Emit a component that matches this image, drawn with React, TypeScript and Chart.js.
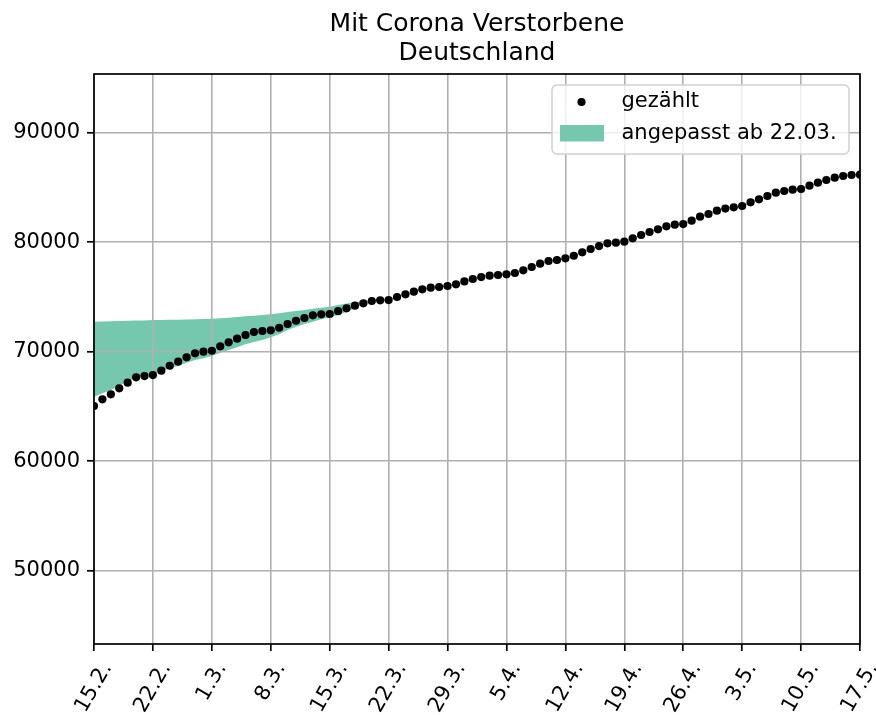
import React, { useEffect, useRef } from 'react';
import { Chart, registerables } from 'chart.js';

Chart.register(...registerables);

const TITLE_LINES = ['Mit Corona Verstorbene', 'Deutschland'];
const X_TICK_LABELS = ['15.2.', '22.2.', '1.3.', '8.3.', '15.3.', '22.3.', '29.3.', '5.4.', '12.4.', '19.4.', '26.4.', '3.5.', '10.5.', '17.5.'];
const X_TICK_STEP = 7; // days between tick labels
const Y_TICKS = [50000, 60000, 70000, 80000, 90000];
const Y_MIN = 43310;
const Y_MAX = 95360;
const LABEL_COUNTED = 'gezählt';
const LABEL_FIT = 'angepasst ab 22.03.';

// daily counted deaths, 15.2. .. 17.5.
const COUNTED = [
  65041, 65650, 66110, 66660, 67170, 67660, 67780, 67870, 68265, 68720,
  69090, 69490, 69850, 70000, 70090, 70490, 70860, 71190, 71525, 71800,
  71890, 71955, 72190, 72530, 72830, 73080, 73320, 73415, 73445, 73700,
  73960, 74200, 74420, 74630, 74695, 74720, 74995, 75240, 75480, 75700,
  75845, 75910, 76000, 76155, 76420, 76640, 76820, 76940, 77005, 77070,
  77190, 77435, 77735, 78040, 78285, 78375, 78530, 78765, 79080, 79380,
  79650, 79900, 79955, 80045, 80355, 80660, 80930, 81180, 81450, 81600,
  81660, 81965, 82330, 82575, 82875, 83070, 83185, 83305, 83645, 83920,
  84220, 84520, 84675, 84795, 84860, 85160, 85435, 85680, 85890, 86045,
  86135, 86165,
];

// fitted band (upper / lower)
const FIT_UPPER = [
  72740, 72760, 72780, 72800, 72820, 72840, 72860, 72890, 72900, 72915,
  72930, 72945, 72960, 72980, 73005, 73060, 73110, 73170, 73230, 73290,
  73350, 73415, 73520, 73620, 73720, 73820, 73920, 74020, 74110, 74260,
  74400, 74520, 74600, 74690, 74760, 74790, 75060, 75310, 75550, 75770,
  75915, 75980, 76070, 76225, 76490, 76710, 76890, 77010, 77075, 77140,
  77260, 77505, 77805, 78110, 78355, 78445, 78600, 78835, 79150, 79450,
  79720, 79970, 80025, 80115, 80425, 80730, 81000, 81250, 81520, 81670,
  81730, 82035, 82400, 82645, 82945, 83140, 83255, 83375, 83715, 83990,
  84290, 84590, 84745, 84865, 84930, 85230, 85505, 85750, 85960, 86115,
  86205, 86235,
];
const FIT_LOWER = [
  65890, 66200, 66500, 66870, 67300, 67660, 67800, 67920, 68200, 68480,
  68720, 69000, 69240, 69400, 69600, 69910, 70155, 70400, 70675, 70885,
  71070, 71315, 71590, 71980, 72285, 72530, 72740, 72960, 73140, 73350,
  73625, 73990, 74310, 74560, 74630, 74650, 74930, 75170, 75410, 75630,
  75775, 75840, 75930, 76085, 76350, 76570, 76750, 76870, 76935, 77000,
  77120, 77365, 77665, 77970, 78215, 78305, 78460, 78695, 79010, 79310,
  79580, 79830, 79885, 79975, 80285, 80590, 80860, 81110, 81380, 81530,
  81590, 81895, 82260, 82505, 82805, 83000, 83115, 83235, 83575, 83850,
  84150, 84450, 84605, 84725, 84790, 85090, 85365, 85610, 85820, 85975,
  86065, 86095,
];

const FONT = '"DejaVu Sans", sans-serif';
const BAND_COLOR = 'rgba(102,194,165,0.9)';

const decorPlugin = {
  id: 'decor',
  afterDraw(chart: any) {
    const { ctx, chartArea: a } = chart;
    const xs = chart.scales.x;
    ctx.save();
    // frame
    ctx.strokeStyle = '#000';
    ctx.lineWidth = 1.7;
    ctx.strokeRect(a.left, a.top, a.right - a.left, a.bottom - a.top);

    // title
    ctx.fillStyle = '#000';
    ctx.font = `25px ${FONT}`;
    ctx.textAlign = 'center';
    ctx.textBaseline = 'alphabetic';
    const cx = (a.left + a.right) / 2;
    TITLE_LINES.forEach((t, i) => ctx.fillText(t, cx, 31 + i * 29));

    // x tick labels, rotated 60 deg, centred on the tick like matplotlib
    ctx.font = `21px ${FONT}`;
    ctx.textBaseline = 'middle';
    const ang = (60 * Math.PI) / 180;
    X_TICK_LABELS.forEach((lab, i) => {
      const px = xs.getPixelForValue(i * X_TICK_STEP);
      const w = ctx.measureText(lab).width;
      const h = 24;
      const bh = w * Math.sin(ang) + h * Math.cos(ang);
      const cy = a.bottom + 14.5 + bh / 2;
      ctx.save();
      ctx.translate(px, cy);
      ctx.rotate(-ang);
      ctx.fillText(lab, 0, 0);
      ctx.restore();
    });

    // legend
    const bx = a.right - 308;
    const by = a.top + 11;
    const bw = 297;
    const bhh = 69;
    const r = 5;
    ctx.beginPath();
    ctx.moveTo(bx + r, by);
    ctx.arcTo(bx + bw, by, bx + bw, by + bhh, r);
    ctx.arcTo(bx + bw, by + bhh, bx, by + bhh, r);
    ctx.arcTo(bx, by + bhh, bx, by, r);
    ctx.arcTo(bx, by, bx + bw, by, r);
    ctx.closePath();
    ctx.fillStyle = 'rgba(255,255,255,0.8)';
    ctx.fill();
    ctx.strokeStyle = '#d0d0d0';
    ctx.lineWidth = 1.5;
    ctx.stroke();

    ctx.fillStyle = '#000';
    ctx.beginPath();
    ctx.arc(bx + 29.5, by + 17, 4.1, 0, Math.PI * 2);
    ctx.fill();
    ctx.fillStyle = BAND_COLOR;
    ctx.fillRect(bx + 8, by + 40, 44, 16.5);

    ctx.fillStyle = '#000';
    ctx.font = `21px ${FONT}`;
    ctx.textAlign = 'left';
    ctx.textBaseline = 'middle';
    ctx.fillText(LABEL_COUNTED, bx + 69.5, by + 17);
    ctx.fillText(LABEL_FIT, bx + 69.5, by + 49);
    ctx.restore();
  },
};

export default function App() {
  const ref = useRef<HTMLCanvasElement>(null);
  useEffect(() => {
    const canvas = ref.current;
    if (!canvas) return;
    Chart.defaults.font.family = FONT;
    const chart = new Chart(canvas, {
      type: 'line',
      data: {
        datasets: [
          {
            label: LABEL_COUNTED,
            data: COUNTED.map((v, i) => ({ x: i, y: v })),
            showLine: false,
            pointRadius: 4.1,
            pointBackgroundColor: '#000',
            pointBorderWidth: 0,
            pointBorderColor: 'rgba(0,0,0,0)',
            fill: false,
            clip: 0,
          } as any,
          {
            label: 'lower',
            data: FIT_LOWER.map((v, i) => ({ x: i, y: v })),
            pointRadius: 0,
            borderWidth: 0,
            borderColor: 'rgba(0,0,0,0)',
            tension: 0,
            fill: false,
            clip: 0,
          } as any,
          {
            label: LABEL_FIT,
            data: FIT_UPPER.map((v, i) => ({ x: i, y: v })),
            pointRadius: 0,
            borderWidth: 0,
            borderColor: 'rgba(0,0,0,0)',
            backgroundColor: BAND_COLOR,
            tension: 0,
            fill: '-1',
            clip: 0,
          } as any,
        ],
      },
      options: {
        responsive: false,
        maintainAspectRatio: false,
        devicePixelRatio: 1,
        animation: false,
        events: [],
        layout: { padding: { top: 74, right: 16, left: 0, bottom: 0 } },
        plugins: {
          legend: { display: false },
          title: { display: false },
          tooltip: { enabled: false },
          filler: { drawTime: 'beforeDraw' },
        } as any,
        scales: {
          x: {
            type: 'linear',
            min: 0,
            max: COUNTED.length - 1,
            afterBuildTicks: (s: any) => {
              s.ticks = X_TICK_LABELS.map((_, i) => ({ value: i * X_TICK_STEP }));
            },
            afterFit: (s: any) => {
              s.height = 71;
            },
            ticks: { display: false, autoSkip: false },
            grid: { color: '#b0b0b0', lineWidth: 1.6, tickColor: '#000', tickLength: 7, tickWidth: 1.7 } as any,
            border: { display: false },
          },
          y: {
            type: 'linear',
            min: Y_MIN,
            max: Y_MAX,
            afterBuildTicks: (s: any) => {
              s.ticks = Y_TICKS.map((v) => ({ value: v }));
            },
            afterFit: (s: any) => {
              s.width = 94;
            },
            ticks: {
              color: '#000',
              font: { size: 21, family: FONT },
              padding: 7,
              autoSkip: false,
              callback: (v: any) => String(v),
            },
            grid: { color: '#b0b0b0', lineWidth: 1.6, tickColor: '#000', tickLength: 7, tickWidth: 1.7 } as any,
            border: { display: false },
          },
        },
      } as any,
      plugins: [decorPlugin],
    });
    return () => chart.destroy();
  }, []);
  return (
    <div style={{ position: 'absolute', left: 0, top: 0, width: 876, height: 715, background: '#fff' }}>
      <canvas ref={ref} width={876} height={715} style={{ display: 'block', width: 876, height: 715 }} />
    </div>
  );
}
